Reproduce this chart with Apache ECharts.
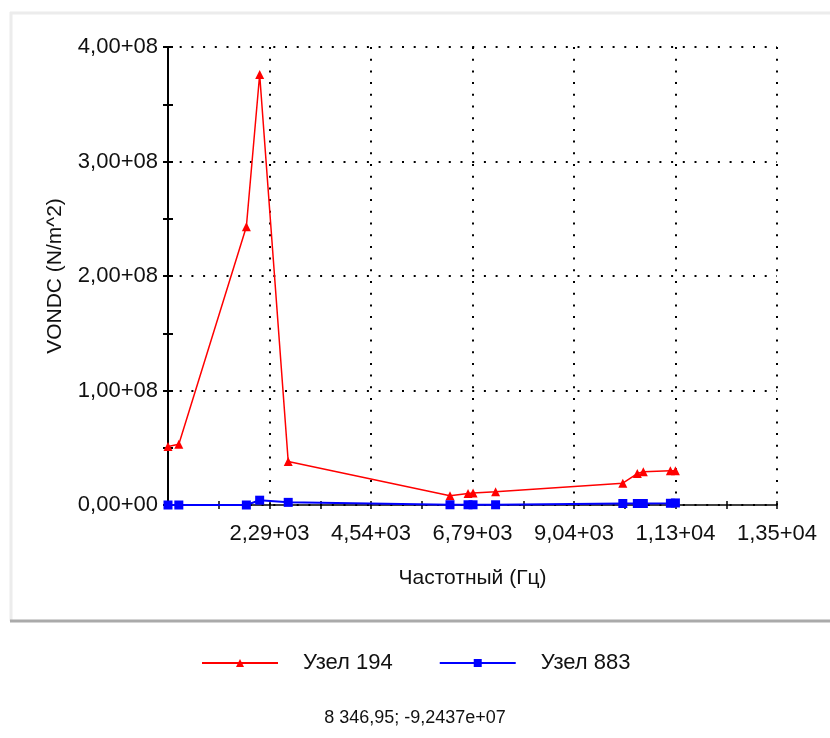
<!DOCTYPE html>
<html>
<head>
<meta charset="utf-8">
<script src="https://cdn.jsdelivr.net/npm/echarts@6/dist/echarts.min.js"></script>
<style>
html,body{margin:0;padding:0;background:#fff;}
#c{width:830px;height:738px;}
</style>
</head>
<body>
<div id="c"></div>
<script>
// ---- data ----
const freq = [40, 280, 1777, 2072, 2705, 6291, 6691, 6802, 7302, 10122, 10444, 10577, 11177, 11288];
const node194 = [0.51e8, 0.53e8, 2.43e8, 3.76e8, 0.38e8, 0.08e8, 0.10e8, 0.105e8, 0.115e8, 0.19e8, 0.275e8, 0.29e8, 0.30e8, 0.30e8];
const node883 = [0, 0, 0, 4.2e6, 2.3e6, 0.2e6, 0.2e6, 0.2e6, 0.2e6, 1.3e6, 1.3e6, 1.3e6, 1.5e6, 1.8e6];
const seriesNames = ['Узел 194', 'Узел 883'];
const xTitle = 'Частотный (Гц)';
const yTitle = 'VONDC (N/m^2)';
const cursorText = '8 346,95; -9,2437e+07';
const xMin = 40, xMax = 13540, xStep = 2250;
const yMin = 0, yMax = 4e8, yStep = 1e8;

function sci(v) {
  if (v === 0) return '0,00+00';
  let e = Math.floor(Math.log10(Math.abs(v)));
  let m = v / Math.pow(10, e);
  let s = m.toFixed(2);
  if (s === '10.00') { e += 1; s = (v / Math.pow(10, e)).toFixed(2); }
  return s.replace('.', ',') + '+' + String(e).padStart(2, '0');
}
function pair(a, b) { return a.map((x, i) => [x, b[i]]); }

const font = "'Liberation Sans', Arial, sans-serif";
const dotted = { color: '#000', width: 2, type: [2, 9.7] };

const chart = echarts.init(document.getElementById('c'), null, { renderer: 'canvas' });
chart.setOption({
  backgroundColor: '#fff',
  animation: false,
  textStyle: { fontFamily: font },
  grid: { left: 168, right: 53, top: 47, bottom: 233 },
  xAxis: [{
    type: 'value', min: xMin, max: xMax, interval: xStep,
    name: xTitle, nameLocation: 'middle', nameGap: 63,
    nameTextStyle: { fontSize: 21, color: '#111', fontFamily: font },
    axisLine: { show: true, onZero: false, lineStyle: { color: '#000', width: 1.5 } },
    axisTick: { show: true, length: 4, lineStyle: { color: '#000', width: 1.5 } },
    minorTick: { show: true, splitNumber: 2, length: 4, lineStyle: { color: '#000', width: 1.5 } },
    axisLabel: { showMinLabel: false, fontSize: 22, color: '#111', margin: 18, formatter: sci, fontFamily: font },
    splitLine: { show: true, lineStyle: dotted }
  }, {
    type: 'value', min: xMin, max: xMax, interval: xStep, position: 'bottom',
    axisLine: { show: false },
    axisTick: { show: true, inside: true, length: 4, lineStyle: { color: '#000', width: 1.5 } },
    minorTick: { show: true, splitNumber: 2, length: 4, lineStyle: { color: '#000', width: 1.5 } },
    axisLabel: { show: false }, splitLine: { show: false }
  }],
  yAxis: [{
    type: 'value', min: yMin, max: yMax, interval: yStep,
    name: yTitle, nameLocation: 'middle', nameGap: 102,
    nameTextStyle: { fontSize: 21, color: '#111', fontFamily: font },
    axisLine: { show: true, lineStyle: { color: '#000', width: 2 } },
    axisTick: { show: true, length: 5, lineStyle: { color: '#000', width: 2 } },
    minorTick: { show: true, splitNumber: 2, length: 5, lineStyle: { color: '#000', width: 2 } },
    axisLabel: { fontSize: 22, color: '#111', margin: 10, formatter: sci, fontFamily: font },
    splitLine: { show: true, lineStyle: dotted }
  }, {
    type: 'value', min: yMin, max: yMax, interval: yStep, position: 'left',
    axisLine: { show: false },
    axisTick: { show: true, inside: true, length: 5, lineStyle: { color: '#000', width: 2 } },
    minorTick: { show: true, splitNumber: 2, length: 5, lineStyle: { color: '#000', width: 2 } },
    axisLabel: { show: false }, splitLine: { show: false }
  }],
  legend: {
    left: 196, top: 647, itemWidth: 76, itemHeight: 10, itemGap: 46,
    data: seriesNames,
    textStyle: { fontSize: 22, color: '#111', fontFamily: font, padding: [0, 0, 0, 20] }
  },
  graphic: [
    { type: 'line', shape: { x1: 10, y1: 13, x2: 830, y2: 13 }, style: { stroke: '#ececec', lineWidth: 3 }, z: -1 },
    { type: 'line', shape: { x1: 11, y1: 12, x2: 11, y2: 621 }, style: { stroke: '#ececec', lineWidth: 3 }, z: -1 },
    { type: 'line', shape: { x1: 10, y1: 621, x2: 830, y2: 621 }, style: { stroke: '#aaaaaa', lineWidth: 3 }, z: -1 },
    { type: 'text', left: 'center', top: 709, style: { text: cursorText, fontSize: 18, fill: '#111', fontFamily: font } }
  ],
  series: [{
    name: seriesNames[0], type: 'line', data: pair(freq, node194),
    symbol: 'triangle', symbolSize: 9,
    lineStyle: { color: '#ff0000', width: 1.5 }, itemStyle: { color: '#ff0000' }
  }, {
    name: seriesNames[1], type: 'line', data: pair(freq, node883),
    symbol: 'rect', symbolSize: 9,
    lineStyle: { color: '#0000ff', width: 2 }, itemStyle: { color: '#0000ff' }
  }]
});
</script>
</body>
</html>
